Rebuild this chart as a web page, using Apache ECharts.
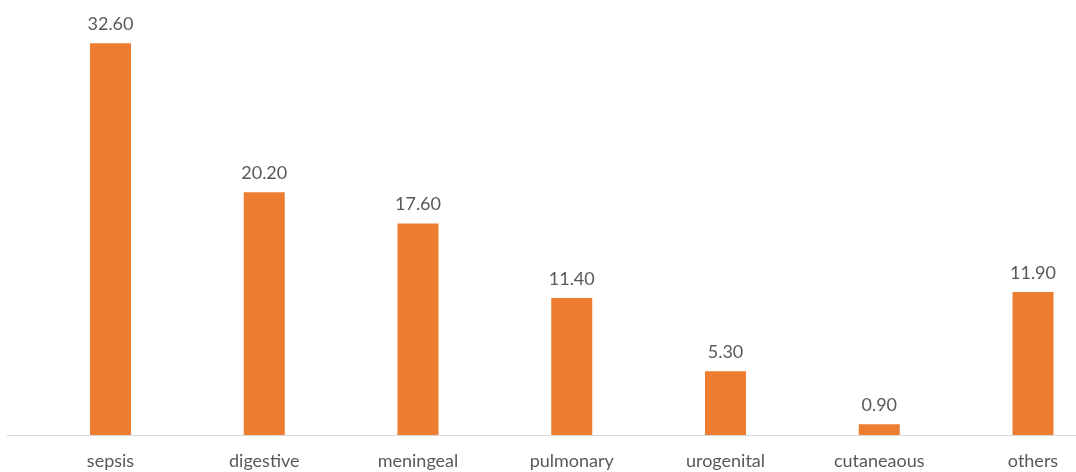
<!DOCTYPE html>
<html>
<head>
<meta charset="utf-8">
<script src="https://cdn.jsdelivr.net/npm/echarts@6/dist/echarts.min.js"></script>
<style>
html,body{margin:0;padding:0;background:#fff;}
#chart{width:1076px;height:472px;}
</style>
</head>
<body>
<div id="chart"></div>
<script>
const categories = ["sepsis","digestive","meningeal","pulmonary","urogenital","cutaneaous","others"];
const values = [32.60, 20.20, 17.60, 11.40, 5.30, 0.90, 11.90];

const chart = echarts.init(document.getElementById('chart'));
chart.setOption({
  animation: false,
  backgroundColor: '#ffffff',
  grid: { left: 110.5, right: 43, top: 14.3, bottom: 37 },
  xAxis: {
    type: 'category',
    data: categories,
    boundaryGap: false,
    axisLine: { show: false },
    axisTick: { show: false },
    axisLabel: { color: '#595959', fontSize: 18, fontFamily: 'Lato', margin: 17, interval: 0 }
  },
  yAxis: {
    type: 'value', min: 0, max: 35,
    show: false,
    splitLine: { show: false }
  },
  graphic: [{
    type: 'line', z: 10,
    shape: { x1: 7, y1: 435.5, x2: 1076, y2: 435.5 },
    style: { stroke: '#D9D9D9', lineWidth: 1 }
  }],
  series: [{
    type: 'bar',
    data: values,
    barWidth: 41,
    clip: false,
    itemStyle: { color: '#ED7D31' },
    label: {
      show: true, position: 'top', distance: 10,
      color: '#595959', fontSize: 18, fontFamily: 'Lato',
      formatter: p => p.value.toFixed(2)
    }
  }]
});
</script>
</body>
</html>
